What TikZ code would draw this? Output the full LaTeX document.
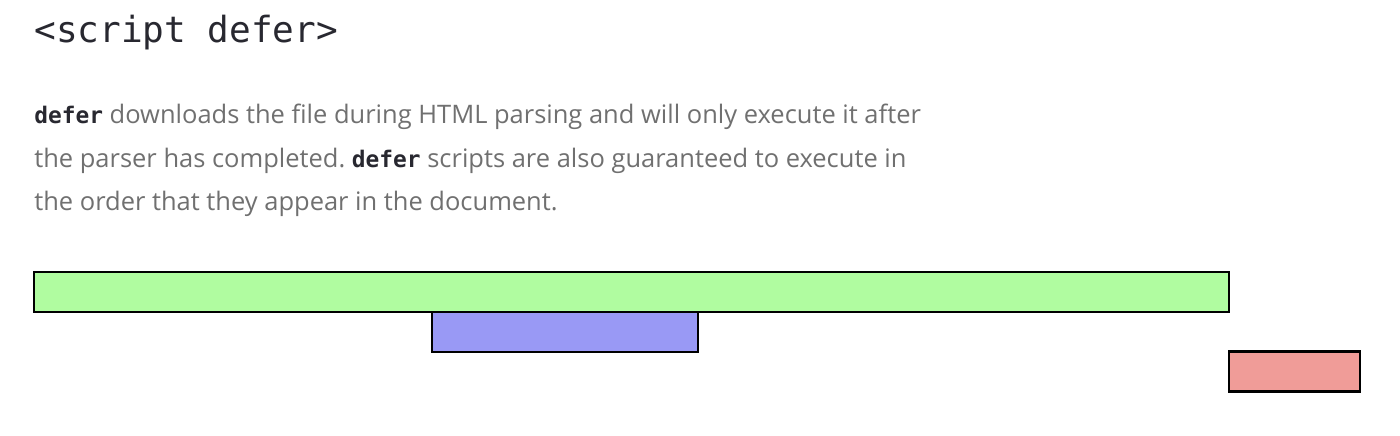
\documentclass[tikz,border=0pt]{standalone}
\usepackage{fontspec}
\setmainfont{Open Sans}
\newfontfamily\codefont{DejaVu Sans Mono}
\usepackage{xcolor}
\usepackage{tikz}
\usetikzlibrary{positioning, calc}
\definecolor{textgray}{RGB}{112,112,112}
\definecolor{codedark}{RGB}{40,40,48}
\newcommand{\code}[1]{{\codefont\fontsize{13}{16}\selectfont\bfseries\color{codedark}#1}}
\frenchspacing
\tikzset{
    titletext/.style={
        anchor=base west, inner sep=0pt, font=\codefont\fontsize{20.5}{24}\selectfont, text=codedark
    },
    bodytext/.style={
        anchor=base west, inner sep=0pt, font=\fontsize{14.5}{17}\selectfont, text=textgray
    },
    barnode/.style={
        draw=black, line width=1.3pt, minimum height=0.8cm, inner sep=0pt
    }
}
\begin{document}
\begin{tikzpicture}[x=0.02cm, y=-0.02cm]
    % --- COLOURS ---
    \definecolor{parsegreen}{RGB}{176,252,160}
    \definecolor{loadblue}{RGB}{153,153,245}
    \definecolor{runred}{RGB}{240,156,152}

    % --- PAGE ---
    \fill[white] (0,0) rectangle (1400,436);
    \useasboundingbox (0,0) rectangle (1400,436);

    % --- HEADING AND TEXT ---
    \node[titletext] (heading) at (34,42) {<script defer>};
    \node[bodytext] (lineone) at (34,123) {\code{defer} downloads the file during HTML parsing and will only execute it after};
    \node[bodytext] (linetwo) at (34,167) {the parser has completed. \code{defer} scripts are also guaranteed to execute in};
    \node[bodytext] (linethree) at (34,210) {the order that they appear in the document.};

    % --- TIMELINE BARS ---
    \node[barnode, fill=parsegreen, minimum width=23.9cm] (parsing) at (631.5,292) {};
    \node[barnode, fill=loadblue, minimum width=5.32cm] (download) at (565,332) {};
    \node[barnode, fill=runred, minimum width=2.62cm] (execute) at (1294.5,371.5) {};
\end{tikzpicture}
\end{document}
